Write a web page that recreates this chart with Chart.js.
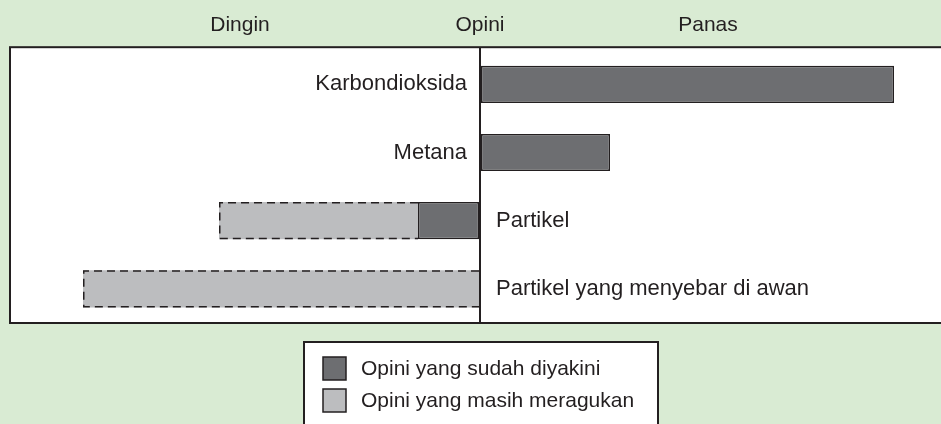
<!DOCTYPE html>
<html>
<head>
<meta charset="utf-8">
<script src="https://cdn.jsdelivr.net/npm/chart.js@4.4.1/dist/chart.umd.min.js"></script>
<style>
  body { margin: 0; background: #d9ebd3; }
  #wrap { width: 941px; height: 424px; position: relative; }
</style>
</head>
<body>
<div id="wrap"><canvas id="grafico"></canvas></div>
<script>
// data (arbitrary units, 0 = Opini)
var kategori = ["Karbondioksida", "Metana", "Partikel", "Partikel yang menyebar di awan"];
var sudahDiyakini = [41.4, 13, -6.2, null];
var masihMeragukan = [null, null, -19.9, -39.7];
var labelSeri = ["Opini yang sudah diyakini", "Opini yang masih meragukan"];
var posisiJudul = [-24, 0, 22.8];
var judulAtas = ["Dingin", "Opini", "Panas"];

var hijau = "#d9ebd3";
var hitam = "#231f20";
var abuTua = "#6d6e71";
var abuMuda = "#bcbdbf";
var font = "'Liberation Sans', Arial, sans-serif";

Chart.defaults.font.family = font;
Chart.defaults.color = hitam;

// background + white frame
var latar = {
    id: "latar",
    beforeDraw: function (chart) {
        var c = chart.ctx, a = chart.chartArea;
        c.save();
        c.fillStyle = hijau;
        c.fillRect(0, 0, chart.width, chart.height);
        c.fillStyle = "#fff";
        c.fillRect(a.left, a.top - 3, a.right - a.left + 5, a.bottom - a.top + 3);
        c.restore();
    },
    afterDatasetsDraw: function (chart) {
        var c = chart.ctx, a = chart.chartArea;
        c.save();
        c.strokeStyle = hitam;
        c.lineWidth = 2;
        c.strokeRect(a.left, a.top - 3, a.right - a.left + 10, a.bottom - a.top + 3);
        c.beginPath();
        var nol = chart.scales.x.getPixelForValue(0);
        c.moveTo(nol, a.top - 3);
        c.lineTo(nol, a.top);
        c.stroke();
        c.restore();
    }
};

// dashed outline on the "masih meragukan" bars, category names, legend box
var hiasan = {
    id: "hiasan",
    afterDatasetsDraw: function (chart) {
        var c = chart.ctx;
        var meta = chart.getDatasetMeta(1);
        c.save();
        c.strokeStyle = hitam;
        c.lineWidth = 1.5;
        c.setLineDash([8, 5]);
        meta.data.forEach(function (bar, i) {
            if (masihMeragukan[i] === null) return;
            var p = bar.getProps(["x", "y", "base", "height"], true);
            var kiri = Math.min(p.x, p.base), kanan = Math.max(p.x, p.base);
            var atas = p.y - p.height / 2, bawah = p.y + p.height / 2;
            c.beginPath();
            c.moveTo(kanan, atas + 0.75);
            c.lineTo(kiri + 0.75, atas + 0.75);
            c.lineTo(kiri + 0.75, bawah - 0.75);
            c.lineTo(kanan, bawah - 0.75);
            c.stroke();
        });
        c.setLineDash([]);

        var sx = chart.scales.x, sy = chart.scales.y;
        var nol = sx.getPixelForValue(0);
        c.font = "22px " + font;
        c.fillStyle = hitam;
        c.textBaseline = "middle";
        kategori.forEach(function (nama, i) {
            var y = sy.getPixelForValue(i);
            if (sudahDiyakini[i] !== null && sudahDiyakini[i] > 0) {
                c.textAlign = "right";
                c.fillText(nama, nol - 13, y);
            } else {
                c.textAlign = "left";
                c.fillText(nama, nol + 16, y);
            }
        });

        // legend
        c.font = "21px " + font;
        c.fillStyle = "#fff";
        c.fillRect(304, 342, 354, 90);
        c.strokeStyle = hitam;
        c.lineWidth = 2;
        c.strokeRect(304, 342, 354, 90);
        chart.data.datasets.forEach(function (ds, i) {
            var y = 357 + i * 32;
            c.fillStyle = ds.backgroundColor;
            c.fillRect(323, y, 23, 23);
            c.lineWidth = 1.5;
            c.strokeRect(323, y, 23, 23);
            c.fillStyle = hitam;
            c.textAlign = "left";
            c.fillText(ds.label, 361, y + 12);
        });
        c.restore();
    }
};

var ctx = document.getElementById("grafico");
var grafik = new Chart(ctx, {
    type: "bar",
    data: {
        labels: kategori,
        datasets: [{
            label: labelSeri[0],
            data: sudahDiyakini,
            backgroundColor: abuTua,
            borderColor: hitam,
            borderWidth: 1.5,
            borderSkipped: false
        }, {
            label: labelSeri[1],
            data: masihMeragukan,
            backgroundColor: abuMuda,
            borderWidth: 0
        }]
    },
    options: {
        indexAxis: "y",
        responsive: true,
        maintainAspectRatio: false,
        animation: false,
        barPercentage: 0.545,
        categoryPercentage: 1,
        layout: { padding: { top: 1, left: 10, right: 0, bottom: 101 } },
        plugins: { legend: { display: false }, tooltip: { enabled: false } },
        scales: {
            x: {
                position: "top",
                stacked: true,
                min: -47,
                max: 46.1,
                border: { display: false },
                grid: {
                    drawTicks: false,
                    lineWidth: 2,
                    color: function (c) { return c.tick && c.tick.value === 0 ? hitam : "rgba(0,0,0,0)"; }
                },
                afterBuildTicks: function (scale) {
                    scale.ticks = posisiJudul.map(function (v) { return { value: v }; });
                },
                ticks: {
                    autoSkip: false,
                    maxRotation: 0,
                    padding: 12,
                    font: { size: 21 },
                    color: hitam,
                    callback: function (v, i) { return judulAtas[i]; }
                }
            },
            y: {
                stacked: true,
                display: false
            }
        }
    },
    plugins: [latar, hiasan]
});
</script>
</body>
</html>
